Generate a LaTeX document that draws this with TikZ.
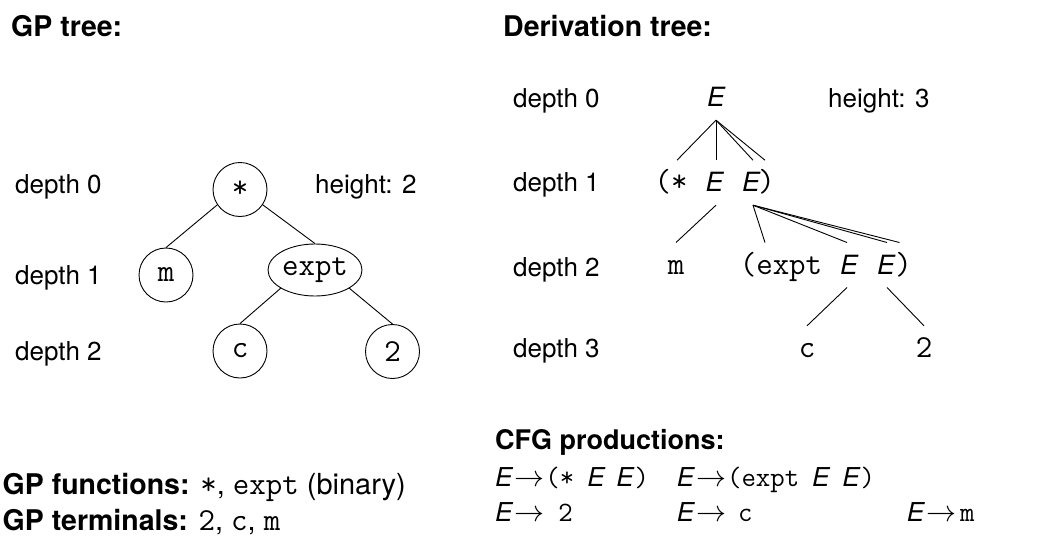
\RequirePackage{fix-cm}
\documentclass[tikz,border=0pt]{standalone}
\usepackage{fontspec}
\setmainfont{TeX Gyre Heros}
\usetikzlibrary{shapes.geometric}
\newcommand{\rmsz}{\fontsize{26}{31}\selectfont}
\newcommand{\rmbig}{\fontsize{29}{34}\selectfont}
\newcommand{\bfsz}{\fontsize{28.5}{34}\selectfont\bfseries}
\newcommand{\bfcfg}{\fontsize{27}{32}\selectfont\bfseries}
\newcommand{\ttsz}{\fontsize{32}{38}\selectfont\ttfamily}
\newcommand{\ttsm}{\fontsize{28}{33}\selectfont\ttfamily}
\newcommand{\itE}{\fontsize{26.5}{31}\selectfont\itshape}
\newcommand{\tE}{\textit{E}}
\newcommand{\arr}{\hspace{1pt}{\fontsize{30}{34}\selectfont$\rightarrow$}}
\begin{document}
\begin{tikzpicture}[x=1pt,y=-1pt,
  lbl/.style={anchor=base west,inner sep=0pt,font=\rmsz},
  ttl/.style={anchor=base west,inner sep=0pt,font=\bfsz},
  gpn/.style={draw,circle,line width=0.9pt,minimum size=54pt,inner sep=0pt,font=\ttsz},
  tok/.style={anchor=base,inner sep=0pt,text height=18pt,text depth=0pt,outer xsep=0pt,outer ysep=13.5pt},
  ttok/.style={tok,font=\ttsz},
  etok/.style={tok,font=\itE},
  edge/.style={line width=0.9pt}
]
\useasboundingbox (0,0) rectangle (1037,541);

% titles
\node[ttl] (t1) at (11,36) {GP tree:};
\node[ttl] (t2) at (503,36) {Derivation tree:};

% GP tree labels
\node[lbl] (ld0) at (15,193.3) {depth 0};
\node[lbl] (ld1) at (15,284.3) {depth 1};
\node[lbl] (ld2) at (15,360) {depth 2};
\node[lbl] (lh) at (315,193.3) {height: 2};

% GP tree
\node[gpn] (star) at (240,189.5) {*};
\node[gpn] (nm) at (166,275) {m};
\node[gpn,ellipse,minimum width=94pt,minimum height=52pt] (expt) at (315,270) {expt};
\node[gpn] (nc) at (240,351) {c};
\node[gpn] (n2) at (392.5,351.5) {2};
\draw[edge] (star.-146) -- (nm.north);
\draw[edge] (star.-34) -- (expt.north);
\draw[edge] (expt.-152) -- (nc.north);
\draw[edge] (expt.-28) -- (n2.north);

% Derivation tree labels
\node[lbl] (rd0) at (513,107.3) {depth 0};
\node[lbl] (rd1) at (513,191.7) {depth 1};
\node[lbl] (rd2) at (513,276.7) {depth 2};
\node[lbl] (rd3) at (513,357.3) {depth 3};
\node[lbl] (rh) at (828,107.3) {height: 3};

% Derivation tree
\node[etok] (e0) at (716,106.7) {E};
\node[ttok] (p1) at (671,191.7) {(*};
\node[etok] (a1) at (714.5,191.7) {E};
\node[etok] (b1) at (751,191.7) {E};
\node[ttok] (q1) at (766.5,191.7) {)};
\node[ttok] (m2) at (676,274) {m};
\node[ttok] (p2) at (781,274) {(expt};
\node[etok] (a2) at (849,274) {E};
\node[etok] (b2) at (886,274) {E};
\node[ttok] (q2) at (903.5,274) {)};
\node[ttok] (c3) at (807,357.3) {c};
\node[ttok] (t3) at (924,357.3) {2};

\draw[edge] (e0.south) -- ([xshift=6pt]p1.north);
\draw[edge] (e0.south) -- ([xshift=1.5pt]a1.north);
\draw[edge] (e0.south) -- ([xshift=2pt]b1.north);
\draw[edge] (e0.south) -- ([xshift=-1.5pt]q1.north);
\draw[edge] ([xshift=1.5pt]a1.south) -- (m2.north);
\draw[edge] ([xshift=2pt]b1.south) -- ([xshift=-16pt]p2.north);
\draw[edge] ([xshift=2pt]b1.south) -- ([xshift=-2pt]a2.north);
\draw[edge] ([xshift=2pt]b1.south) -- ([xshift=1pt]b2.north);
\draw[edge] ([xshift=2pt]b1.south) -- ([xshift=-4pt]q2.north);
\draw[edge] ([xshift=-2pt]a2.south) -- (c3.north);
\draw[edge] ([xshift=1pt]b2.south) -- (t3.north);

% bottom left
\node[lbl,font=\rmbig] (fn) at (2.5,494) {{\bfsz GP functions:} {\ttsz *}, {\ttsz expt} (binary)};
\node[lbl,font=\rmbig] (tm) at (2.5,530) {{\bfsz GP terminals:} {\ttsz 2}, {\ttsz c}, {\ttsz m}};

% CFG productions
\node[ttl,font=\bfcfg] (cfg) at (495,449.3) {CFG productions:};
\node[lbl] (pr1) at (495,486) {\tE\arr\hspace{1pt}{\ttsm(*}\hspace{13pt}\tE\hspace{11pt}\tE{\ttsm)}};
\node[lbl] (pr2) at (676.7,486) {\tE\arr\hspace{1pt}{\ttsm(expt}\hspace{13pt}\tE\hspace{12pt}\tE{\ttsm)}};
\node[lbl] (pr3) at (495,521.7) {\tE\arr\hspace{14pt}{\ttsm 2}};
\node[lbl] (pr4) at (676.7,521.7) {\tE\arr\hspace{12pt}{\ttsm c}};
\node[lbl] (pr5) at (906.7,521.7) {\tE\arr\hspace{4pt}{\ttsm m}};
\end{tikzpicture}
\end{document}
